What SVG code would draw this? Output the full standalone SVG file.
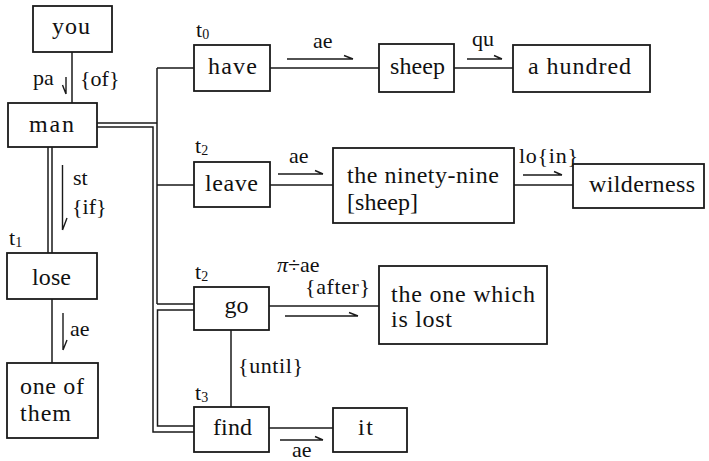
<svg xmlns="http://www.w3.org/2000/svg" width="709" height="461" viewBox="0 0 709 461">
<style>
rect{fill:#fff;stroke:#1a1a1a;stroke-width:1.8}
.c path{fill:none;stroke:#1a1a1a;stroke-width:1.5}
.a path{fill:none;stroke:#1a1a1a;stroke-width:1.4}
text{font-family:'Liberation Serif',serif;fill:#111}
.n{font-size:24px}
.l{font-size:22px}
</style>
<rect x="0" y="0" width="709" height="461" style="stroke:none;fill:#fff"/>
<g id="connectors" class="c">
<path d="M72,52 V103"/>
<path d="M48,147 V253 M52,147 V253"/>
<path d="M52,299 V363"/>
<path d="M97,123 H157 M157,68 V304 M157,68 H194 M157,185 H194 M157,304 H194"/>
<path d="M97,127 H153 V432 H194"/>
<path d="M194,310 H157.5 V426 H194"/>
<path d="M270,68 H379 M454,68 H513"/>
<path d="M270,185 H333 M514,185 H573"/>
<path d="M269,306 H379"/>
<path d="M231,330 V407"/>
<path d="M269,428 H333"/>
</g>
<g id="arrows" class="a">
<path d="M66,77 V94 M62.5,85 L66,94"/>
<path d="M62.5,165 V230 M67,218 L62.5,230"/>
<path d="M63,313 V350 M67,340 L63,350"/>
<path d="M287,59 H353 M344,55.5 L353,59"/>
<path d="M467,59 H502 M494,55.5 L502,59"/>
<path d="M278,174 H323 M315,170.5 L323,174"/>
<path d="M523,175 H562 M554,171.5 L562,175"/>
<path d="M285,316 H358 M349,312.5 L358,316"/>
<path d="M280,440 H323 M315,436.5 L323,440"/>
</g>
<g id="labels">
<text class="l" x="33" y="85">pa</text>
<text class="l" x="80" y="86">{of}</text>
<text class="l" x="73" y="185">st</text>
<text class="l" x="72" y="214">{if}</text>
<text class="l" x="70" y="336">ae</text>
<text class="l" x="313" y="48">ae</text>
<text class="l" x="472" y="46">qu</text>
<text class="l" x="289" y="163">ae</text>
<text class="l" x="519" y="163" textLength="59">lo{in}</text>
<text class="l" x="277" y="272"><tspan font-style="italic">π</tspan>÷ae</text>
<text class="l" x="305" y="294" textLength="65">{after}</text>
<text class="l" x="238" y="373" textLength="65">{until}</text>
<text class="l" x="292" y="457">ae</text>
<text class="l" x="9" y="245">t<tspan font-size="14" dy="2">1</tspan></text>
<text class="l" x="196" y="37">t<tspan font-size="14" dy="2">0</tspan></text>
<text class="l" x="195" y="153">t<tspan font-size="14" dy="2">2</tspan></text>
<text class="l" x="195" y="279">t<tspan font-size="14" dy="2">2</tspan></text>
<text class="l" x="195" y="400">t<tspan font-size="14" dy="2">3</tspan></text>
</g>
<g id="you"><rect x="33" y="6" width="79" height="46"/><text class="n" x="52" y="34" textLength="38">you</text></g>
<g id="man"><rect x="8" y="103" width="89" height="44"/><text class="n" x="29" y="132" textLength="45">man</text></g>
<g id="lose"><rect x="7" y="253" width="90" height="46"/><text class="n" x="32" y="285" textLength="39">lose</text></g>
<g id="one-of-them"><rect x="7" y="363" width="91" height="75"/><text class="n" x="20" y="394" textLength="64" font-size="23">one of</text><text class="n" x="20" y="421" textLength="51" font-size="23">them</text></g>
<g id="have"><rect x="194" y="45" width="76" height="46"/><text class="n" x="208" y="74" textLength="49">have</text></g>
<g id="sheep"><rect x="379" y="44" width="75" height="48"/><text class="n" x="390" y="74" textLength="55">sheep</text></g>
<g id="a-hundred"><rect x="513" y="45" width="137" height="47"/><text class="n" x="528" y="74" textLength="103">a hundred</text></g>
<g id="leave"><rect x="194" y="162" width="76" height="45"/><text class="n" x="205" y="191" textLength="53">leave</text></g>
<g id="ninety-nine"><rect x="333" y="148" width="181" height="75"/><text class="n" x="347" y="183" textLength="152">the ninety-nine</text><text class="n" x="347" y="210" textLength="71">[sheep]</text></g>
<g id="wilderness"><rect x="573" y="164" width="131" height="44"/><text class="n" x="589" y="192" textLength="106">wilderness</text></g>
<g id="go"><rect x="194" y="287" width="75" height="43"/><text class="n" x="236.5" y="313" text-anchor="middle" font-size="26">go</text></g>
<g id="one-which-is-lost"><rect x="379" y="266" width="168" height="78"/><text class="n" x="391" y="302" textLength="144">the one which</text><text class="n" x="391" y="327" textLength="61">is lost</text></g>
<g id="find"><rect x="194" y="407" width="75" height="45"/><text class="n" x="213" y="435" textLength="39">find</text></g>
<g id="it"><rect x="333" y="408" width="74" height="44"/><text class="n" x="358" y="435" textLength="15">it</text></g>
</svg>
